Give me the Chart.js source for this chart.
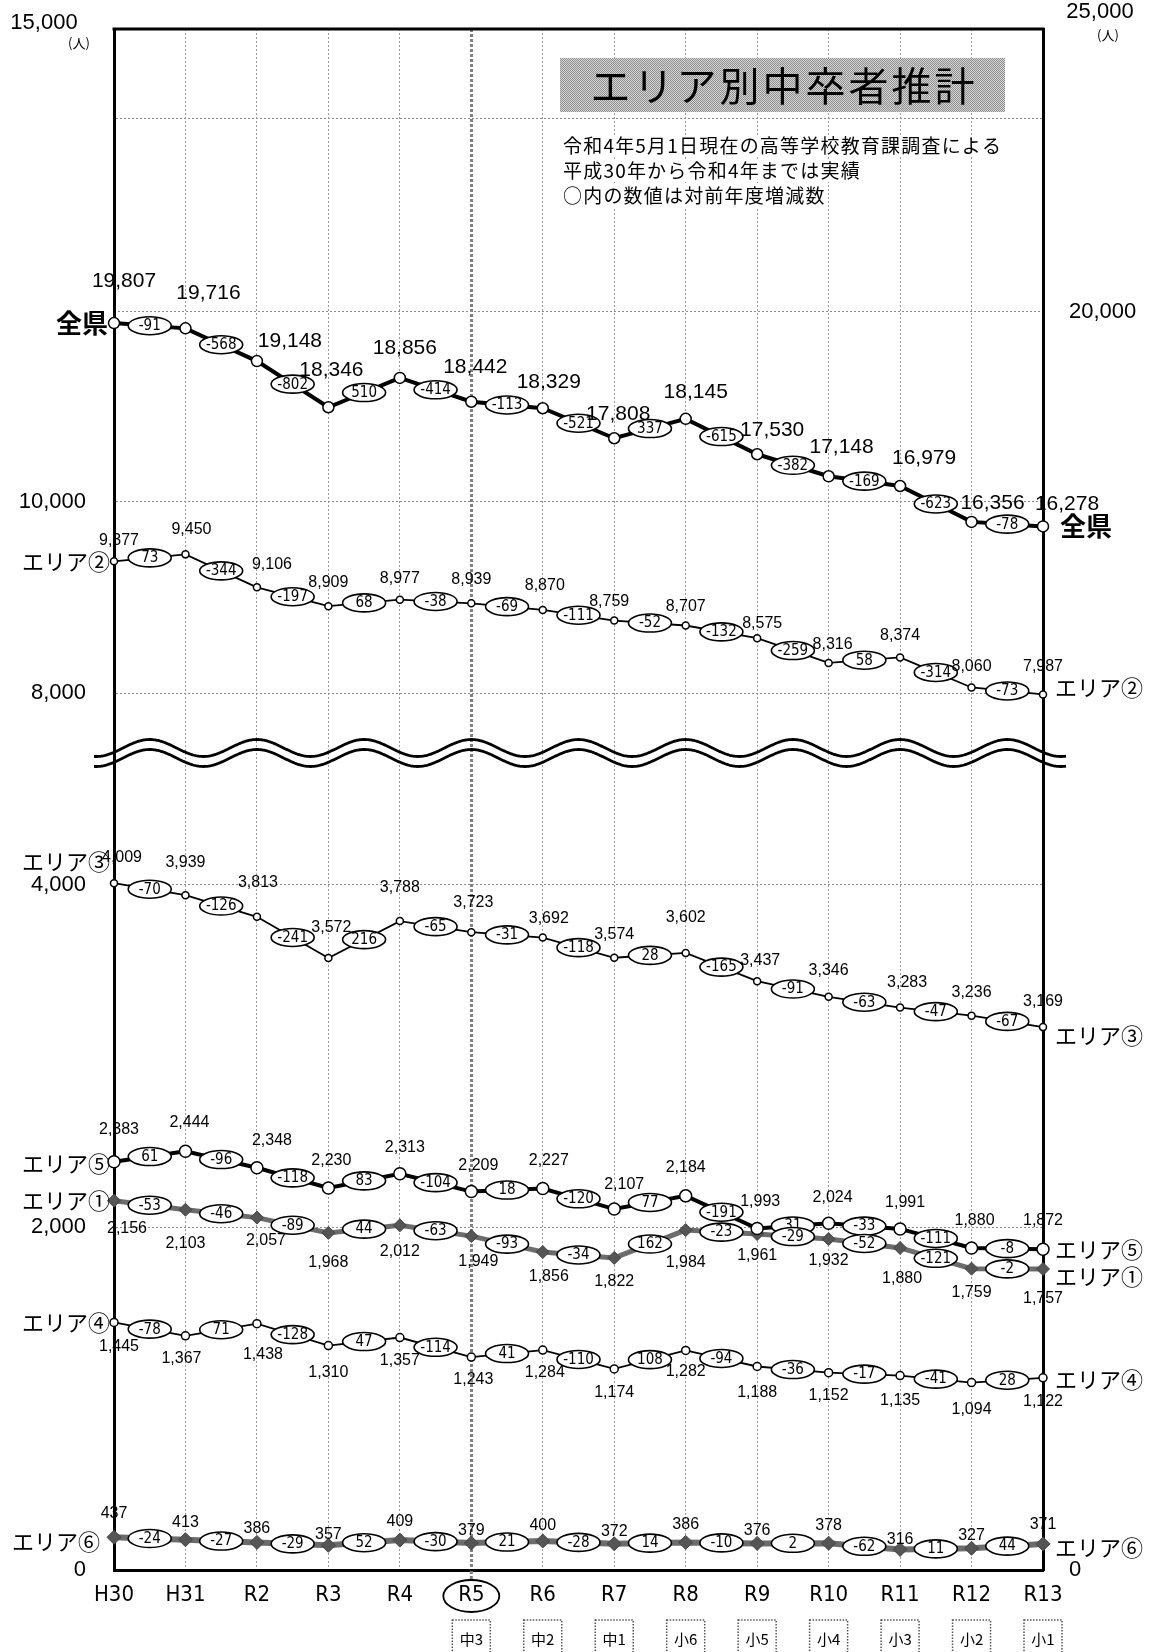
<!DOCTYPE html>
<html><head><meta charset="utf-8">
<script src="https://cdn.jsdelivr.net/npm/chart.js@4.4.1/dist/chart.umd.min.js"></script>
<style>html,body{margin:0;padding:0;background:#fff;}#wrap{width:1152px;height:1652px;position:relative;}canvas{display:block;}</style>
</head><body><div id="wrap"><canvas id="c" width="1152" height="1652"></canvas></div>
<script>
// ---------- data ----------
const categories = ['H30','H31','R2','R3','R4','R5','R6','R7','R8','R9','R10','R11','R12','R13'];
const zenken = [19807,19716,19148,18346,18856,18442,18329,17808,18145,17530,17148,16979,16356,16278];
const zenkenDiff = [-91,-568,-802,510,-414,-113,-521,337,-615,-382,-169,-623,-78];
const area2 = [9377,9450,9106,8909,8977,8939,8870,8759,8707,8575,8316,8374,8060,7987];
const area2Diff = [73,-344,-197,68,-38,-69,-111,-52,-132,-259,58,-314,-73];
const area3 = [4009,3939,3813,3572,3788,3723,3692,3574,3602,3437,3346,3283,3236,3169];
const area3Diff = [-70,-126,-241,216,-65,-31,-118,28,-165,-91,-63,-47,-67];
const area5 = [2383,2444,2348,2230,2313,2209,2227,2107,2184,1993,2024,1991,1880,1872];
const area5Diff = [61,-96,-118,83,-104,18,-120,77,-191,31,-33,-111,-8];
const area1 = [2156,2103,2057,1968,2012,1949,1856,1822,1984,1961,1932,1880,1759,1757];
const area1Diff = [-53,-46,-89,44,-63,-93,-34,162,-23,-29,-52,-121,-2];
const area4 = [1445,1367,1438,1310,1357,1243,1284,1174,1282,1188,1152,1135,1094,1122];
const area4Diff = [-78,71,-128,47,-114,41,-110,108,-94,-36,-17,-41,28];
const area6 = [437,413,386,357,409,379,400,372,386,376,378,316,327,371];
const area6Diff = [-24,-27,-29,52,-30,21,-28,14,-10,2,-62,11,44];
const leftTicksUpper = [8000,10000,14000];
const leftTicksLower = [0,2000,4000];
const rightTicksUpper = [20000];
const rightTicksLower = [0];
const topLeftTick = '15,000';
const topRightTick = '25,000';
const unitLabel = '(人)';
const gradeLabels = ['中3','中2','中1','小6','小5','小4','小3','小2','小1'];
const seriesNames = ['全県','エリア②','エリア③','エリア⑤','エリア①','エリア④','エリア⑥'];
const titleText = 'エリア別中卒者推計';
const noteLines = ['令和4年5月1日現在の高等学校教育課調査による','平成30年から令和4年までは実績','○内の数値は対前年度増減数'];

// ---------- layout / style ----------
const W = 1152, H = 1652, AREA_L = 114, AREA_R = 1043, AREA_T = 29, AREA_B = 1570;
const narrow = "'Liberation Sans Narrow','DejaVu Sans Condensed','Liberation Sans',sans-serif";
const sans = "'Liberation Sans',Arial,sans-serif";
const jp = "'Noto Sans CJK JP','Noto Sans',sans-serif";
const fmt = v => Number(v).toLocaleString('en-US');
const fmtDiff = d => d < 0 ? '-' + Math.abs(d) : String(d);

const seriesList = [
  {values: zenken, diffs: zenkenDiff},
  {values: area2, diffs: area2Diff},
  {values: area3, diffs: area3Diff},
  {values: area5, diffs: area5Diff},
  {values: area1, diffs: area1Diff},
  {values: area4, diffs: area4Diff},
  {values: area6, diffs: area6Diff}
];
const labelStyle = [
  {font: "21px " + sans, dx: [10,23,33,3,5,4,6,4,10,15,13,24,21,24], dy: [-42,-35,-20,-37,-30,-35,-26,-24,-27,-24,-29,-28,-19,-22]},
  {font: "16px " + sans, dx: [5,6,15,0,0,0,2,-5,0,5,4,0,0,0], dy: [-21,-25,-23,-24,-21,-24,-24,-19,-19,-15,-18,-22,-21,-28]},
  {font: "16px " + sans, dx: [8,0,1,3,0,2,6,0,0,3,0,7,0,0], dy: [-26,-33,-34,-30,-33,-30,-19,-23,-35,-21,-26,-25,-23,-26]},
  {font: "16px " + sans, dx: [5,4,15,3,5,7,6,10,0,3,4,5,3,0], dy: [-32,-29,-27,-27,-26,-26,-28,-24,-28,-27,-26,-26,-27,-29]},
  {font: "16px " + sans, dx: [13,0,9,0,0,7,6,0,0,0,0,2,0,0], dy: [28,34,23,30,26,25,25,24,32,22,22,31,24,30]},
  {font: "16px " + sans, dx: [5,-4,6,0,0,2,2,0,0,0,0,0,0,0], dy: [24,23,31,27,23,23,23,24,21,26,23,25,27,24]},
  {font: "16px " + sans, dx: 0, dy: [-24,-17,-14,-11,-19,-13,-15,-12,-18,-13,-18,-10,-13,-19]}
];
const nameStyle = [
  {font: "bold 26px " + jp, lx: 108, ldy: 0, rx: 1060, rdy: 0},
  {font: "22px " + jp, lx: 110, ldy: 0, rx: 1055, rdy: -7},
  {font: "22px " + jp, lx: 110, ldy: -22, rx: 1055, rdy: 9},
  {font: "22px " + jp, lx: 110, ldy: 2, rx: 1055, rdy: 0},
  {font: "22px " + jp, lx: 110, ldy: 0, rx: 1055, rdy: 8},
  {font: "22px " + jp, lx: 110, ldy: 0, rx: 1055, rdy: 2},
  {font: "22px " + jp, lx: 100, ldy: 4, rx: 1055, rdy: 4}
];

function fixTicks(list) { return s => { s.ticks = list.map(v => ({value: v})); }; }
function fitWidth(w) { return s => { s.width = w; s.paddingTop = 0; s.paddingBottom = 0; }; }
function makePattern(ctx, a, b) {
  const c = document.createElement('canvas'); c.width = 2; c.height = 2;
  const g = c.getContext('2d');
  g.fillStyle = b; g.fillRect(0, 0, 2, 2);
  g.fillStyle = a; g.fillRect(0, 0, 1, 1); g.fillRect(1, 1, 1, 1);
  return ctx.createPattern(c, 'repeat');
}

const decor = {
  id: 'decor',
  afterDatasetsDraw(chart) {
    const ctx = chart.ctx;
    ctx.save();
    seriesList.forEach((s, k) => {
      const pts = chart.getDatasetMeta(k).data;
      // diff ellipses
      s.diffs.forEach((d, i) => {
        const a = pts[i], b = pts[i + 1];
        const cx = (a.x + b.x) / 2, cy = (a.y + b.y) / 2;
        ctx.beginPath(); ctx.ellipse(cx, cy, 21.5, 9, 0, 0, Math.PI * 2);
        ctx.fillStyle = '#fff'; ctx.fill();
        ctx.lineWidth = 1.6; ctx.strokeStyle = '#000'; ctx.stroke();
        ctx.fillStyle = '#000'; ctx.font = "15px " + narrow;
        ctx.textAlign = 'center'; ctx.textBaseline = 'middle';
        ctx.fillText(fmtDiff(d), cx, cy + 0.5);
      });
      // value labels
      const st = labelStyle[k];
      ctx.font = st.font; ctx.fillStyle = '#000'; ctx.textAlign = 'center'; ctx.textBaseline = 'middle';
      s.values.forEach((v, i) => {
        const dx = Array.isArray(st.dx) ? st.dx[i] : st.dx;
        const dy = Array.isArray(st.dy) ? st.dy[i] : st.dy;
        ctx.fillText(fmt(v), pts[i].x + dx, pts[i].y + dy);
      });
      // series names
      const ns = nameStyle[k];
      ctx.font = ns.font; ctx.textBaseline = 'middle';
      ctx.textAlign = 'right';
      ctx.fillText(seriesNames[k], ns.lx, pts[0].y + ns.ldy);
      ctx.textAlign = 'left';
      ctx.fillText(seriesNames[k], ns.rx, pts[pts.length - 1].y + ns.rdy);
    });
    ctx.restore();
  },
  afterDraw(chart) {
    const ctx = chart.ctx;
    const xs = chart.scales.x;
    const area = chart.chartArea;
    ctx.save();
    // top border
    ctx.strokeStyle = '#000'; ctx.lineWidth = 3;
    ctx.beginPath(); ctx.moveTo(area.left - 1.5, area.top); ctx.lineTo(area.right + 1.5, area.top); ctx.stroke();
    // wave break
    const x5 = xs.getPixelForTick(5);
    const step = xs.getPixelForTick(1) - xs.getPixelForTick(0);
    const P = step * 1.5, A = 8.5, c = chart.scales.yLow.top + 1;
    ctx.lineWidth = 2.8; ctx.strokeStyle = '#000';
    [-5, 5].forEach(off => {
      ctx.beginPath();
      for (let x = 94; x <= 1066; x += 1) {
        const y = c + off - A * Math.cos(2 * Math.PI * (x - x5) / P);
        if (x === 94) ctx.moveTo(x, y); else ctx.lineTo(x, y);
      }
      ctx.stroke();
    });
    // top tick labels and units
    ctx.fillStyle = '#000'; ctx.textBaseline = 'middle'; ctx.textAlign = 'center';
    ctx.font = "22px " + sans;
    ctx.fillText(topLeftTick, 44, 23);
    ctx.fillText(topRightTick, 1100, 12);
    ctx.font = "13px " + jp;
    ctx.fillText(unitLabel, 79, 43);
    ctx.fillText(unitLabel, 1108, 35);
    // title box
    ctx.fillStyle = makePattern(ctx, '#8e8e8e', '#d6d6d6');
    ctx.fillRect(560, 58, 445, 54);
    ctx.fillStyle = '#000'; ctx.font = "40px " + jp; ctx.textAlign = 'center';
    ctx.letterSpacing = '3px';
    ctx.fillText(titleText, 784, 86);
    ctx.letterSpacing = '0px';
    // notes
    ctx.font = "19px " + jp; ctx.textAlign = 'left';
    ctx.letterSpacing = '1.2px';
    noteLines.forEach((t, i) => {
      const y = 146 + i * 25;
      const w = ctx.measureText(t).width;
      ctx.fillStyle = '#fff'; ctx.fillRect(561, y - 11, w + 4, 22);
      ctx.fillStyle = '#000'; ctx.fillText(t, 563, y);
    });
    ctx.letterSpacing = '0px';
    // R5 extension and ellipse
    ctx.strokeStyle = '#808080'; ctx.lineWidth = 3; ctx.setLineDash([3, 2]);
    ctx.beginPath(); ctx.moveTo(x5, area.bottom + 1); ctx.lineTo(x5, area.bottom + 11); ctx.stroke();
    ctx.setLineDash([]);
    ctx.strokeStyle = '#000'; ctx.lineWidth = 1.8;
    ctx.beginPath(); ctx.ellipse(x5, 1596, 28, 16, 0, 0, Math.PI * 2); ctx.stroke();
    // grade boxes
    gradeLabels.forEach((g, i) => {
      const x = xs.getPixelForTick(5 + i);
      ctx.setLineDash([1.5, 1.5]); ctx.strokeStyle = '#555'; ctx.lineWidth = 1.5;
      ctx.strokeRect(x - 19, 1620, 38, 42);
      ctx.setLineDash([]);
      ctx.fillStyle = '#000'; ctx.font = "15px " + jp; ctx.textAlign = 'center'; ctx.textBaseline = 'middle';
      ctx.fillText(g, x, 1639);
    });
    ctx.restore();
  }
};

const circleSeries = (label, data, axis, bw, r) => ({
  label, data, yAxisID: axis, borderColor: '#000', borderWidth: bw,
  pointRadius: r, pointBackgroundColor: '#fff', pointBorderColor: '#000', pointBorderWidth: 1.5,
  tension: 0, clip: false
});
const diamondSeries = (label, data, axis, bw, r) => ({
  label, data, yAxisID: axis, borderColor: '#6c6c6c', borderWidth: bw,
  pointStyle: 'rectRot', pointRadius: r, pointBackgroundColor: '#555', pointBorderColor: '#444', pointBorderWidth: 1,
  tension: 0, clip: false
});

const yGrid = {color: '#8a8a8a', lineWidth: 1, drawTicks: false};
const yBorder = {color: '#000', width: 3, dash: [2, 2]};
const yTickFont = {family: "'Liberation Sans',Arial,sans-serif", size: 22};

new Chart(document.getElementById('c'), {
  type: 'line',
  data: {
    labels: categories,
    datasets: [
      circleSeries(seriesNames[0], zenken, 'rHigh', 4, 5.5),
      circleSeries(seriesNames[1], area2, 'yHigh', 1.8, 3.5),
      circleSeries(seriesNames[2], area3, 'yLow', 1.8, 3.5),
      circleSeries(seriesNames[3], area5, 'yLow', 4, 6),
      diamondSeries(seriesNames[4], area1, 'yLow', 5, 6.5),
      circleSeries(seriesNames[5], area4, 'yLow', 1.8, 4),
      diamondSeries(seriesNames[6], area6, 'y6', 6, 7)
    ]
  },
  options: {
    responsive: false, animation: false, events: [],
    layout: {padding: {top: AREA_T, left: 0, right: 0, bottom: 0}},
    plugins: {legend: {display: false}, tooltip: {enabled: false}},
    scales: {
      x: {
        type: 'category', position: 'bottom', offset: false,
        grid: {color: c => c.index === 5 ? '#808080' : '#9a9a9a', lineWidth: c => c.index === 5 ? 3 : 1, drawTicks: false, offset: false},
        border: {color: '#000', width: 3, dash: c => c.index === 5 ? [3, 2] : [2, 2]},
        ticks: {font: {family: narrow, size: 22}, color: '#000', padding: 12, autoSkip: false, maxRotation: 0},
        afterFit: s => { s.height = H - AREA_B; s.paddingLeft = 0; s.paddingRight = 0; }
      },
      yLow: {
        type: 'linear', position: 'left', stack: 'left', stackWeight: 818, min: 0, max: 4775,
        afterBuildTicks: fixTicks(leftTicksLower),
        ticks: {font: yTickFont, color: '#000', padding: 28, callback: v => fmt(v)},
        grid: yGrid, border: yBorder,
        afterFit: fitWidth(AREA_L)
      },
      yHigh: {
        type: 'linear', position: 'left', stack: 'left', stackWeight: 723, min: 7386, max: 14937,
        afterBuildTicks: fixTicks(leftTicksUpper),
        ticks: {font: yTickFont, color: '#000', padding: 28, callback: v => v === 14000 ? '' : fmt(v)},
        grid: yGrid, border: yBorder,
        afterFit: fitWidth(AREA_L)
      },
      rHigh: {
        type: 'linear', position: 'right', stack: 'right', stackWeight: 723, min: 12361, max: 24913,
        afterBuildTicks: fixTicks(rightTicksUpper),
        ticks: {font: yTickFont, color: '#000', padding: 26, callback: v => fmt(v)},
        grid: yGrid, border: yBorder,
        afterFit: fitWidth(W - AREA_R)
      },
      rLow: {
        type: 'linear', position: 'right', stack: 'right', stackWeight: 818, min: 0, max: 4775,
        afterBuildTicks: fixTicks(rightTicksLower),
        ticks: {font: yTickFont, color: '#000', padding: 26, callback: v => fmt(v)},
        grid: {display: false, drawTicks: false}, border: yBorder,
        afterFit: fitWidth(W - AREA_R)
      },
      y6: {type: 'linear', display: false, position: 'right', min: 110, max: 15520,
        afterFit: s => { s.paddingTop = 0; s.paddingBottom = 0; }}
    }
  },
  plugins: [decor]
});
</script></body></html>
